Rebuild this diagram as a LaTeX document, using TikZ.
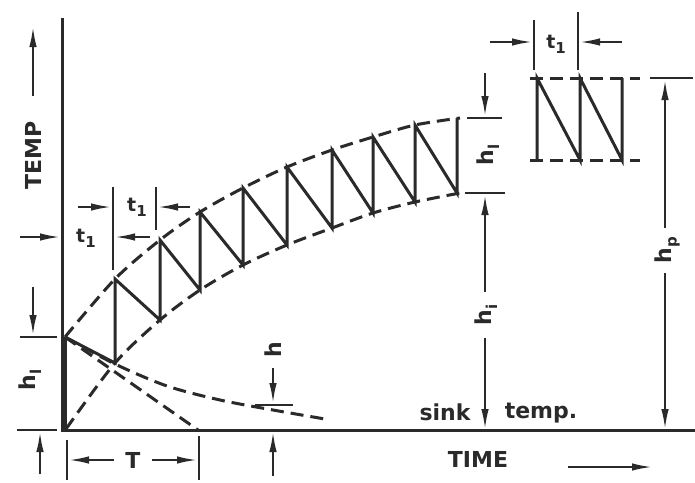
\documentclass[tikz,border=0pt]{standalone}
\usepackage{fontspec}
\setmainfont{DejaVu Sans}
\usetikzlibrary{arrows.meta}
\definecolor{ink}{HTML}{2A2A2A}
\newcommand{\mysub}[2]{#1\raisebox{-0.45ex}{\fontsize{15}{15}\selectfont #2}}
\begin{document}
\begin{tikzpicture}[x=1pt,y=-1pt,color=ink,
  axisline/.style={line width=3pt},
  saw/.style={line width=3pt,line join=miter},
  env/.style={line width=3pt,dash pattern=on 13pt off 7pt},
  tick/.style={line width=2pt},
  dimarrow/.style={line width=2pt,-{Latex[length=20pt,width=7.5pt]}},
  lbl/.style={inner sep=0pt,font=\bfseries\fontsize{22}{22}\selectfont},
  rlbl/.style={lbl,rotate=90},
  tlbl/.style={inner sep=0pt,font=\bfseries\fontsize{19}{19}\selectfont}]
\useasboundingbox (0,0) rectangle (695,482);
\fill[white] (0,0) rectangle (695,482);

% axes
\coordinate (ytop) at (62,18);
\coordinate (O) at (62,430);
\coordinate (xend) at (695,430);
\draw[axisline] (ytop) -- (O) -- (xend);
% initial heating step
\coordinate (s0) at (65,337);
\draw[line width=5.5pt] (64.5,337) -- (64.5,430);

% envelopes
\draw[env] plot[smooth] coordinates {(65,337) (115,279) (160,240) (200,212) (243,188) (287,167) (332,150) (373,137) (415,125) (460,118)};
\draw[env] plot[smooth] coordinates {(66,429) (115,363) (160,320) (200,290) (243,265) (287,245) (332,228) (373,213) (415,202) (460,193)};
% decay curve and tangent
\draw[env] plot[smooth] coordinates {(65,337) (115,364) (167,386) (220,400) (273,410) (325,419)};
\coordinate (Tend) at (198,430);
\draw[env] (s0) -- (Tend);

% sawtooth
\draw[saw] (s0) -- (115,363) -- (115,279) -- (160,320) -- (160,240) -- (200,290) -- (200,212)
  -- (243,265) -- (243,188) -- (287,245) -- (287,167) -- (332,228) -- (332,150)
  -- (373,213) -- (373,137) -- (415,202) -- (415,125) -- (457,193) -- (457,118);

% inset
\draw[env] (530,78) -- (640,78);
\draw[env] (530,160) -- (640,160);
\draw[saw] (537,160) -- (537,78) -- (580,160) -- (580,78) -- (622,160) -- (622,78);

% TEMP axis label
\node[rlbl] (temp) at (33,155) {TEMP};
\coordinate (tempA) at (33,96);
\coordinate (tempB) at (33,27);
\draw[dimarrow] (tempA) -- (tempB);

% TIME
\node[lbl] (time) at (478,459) {TIME};
\coordinate (timeA) at (568,467);
\coordinate (timeB) at (652,467);
\draw[dimarrow] (timeA) -- (timeB);

% sink temp
\node[lbl] (sink) at (445,412) {sink};
\node[lbl] (stemp) at (541,413) {temp.};

% h_l left
\draw[tick] (20,337) -- (57,337);
\draw[tick] (17,430) -- (57,430);
\coordinate (hlA) at (33,287); \coordinate (hlB) at (33,335);
\draw[dimarrow] (hlA) -- (hlB);
\coordinate (hlC) at (40,474); \coordinate (hlD) at (40,432);
\draw[dimarrow] (hlC) -- (hlD);
\node[rlbl] (hlleft) at (30,380) {\mysub{h}{l}};

% t1 lower (axis to first rise)
\draw[tick] (113,187) -- (113,270);
\coordinate (taA) at (20,237); \coordinate (taB) at (60,237);
\draw[dimarrow] (taA) -- (taB);
\coordinate (taC) at (150,237); \coordinate (taD) at (115,237);
\draw[dimarrow] (taC) -- (taD);
\node[tlbl] (t1a) at (86,238) {\mysub{t}{1}};

% t1 upper (period)
\draw[tick] (156,187) -- (156,230);
\coordinate (tbA) at (78,207); \coordinate (tbB) at (111,207);
\draw[dimarrow] (tbA) -- (tbB);
\coordinate (tbC) at (190,207); \coordinate (tbD) at (158,207);
\draw[dimarrow] (tbC) -- (tbD);
\node[tlbl] (t1b) at (137,207) {\mysub{t}{1}};

% T
\draw[tick] (67,440) -- (67,480);
\draw[tick] (199,436) -- (199,480);
\node[lbl] (Tl) at (133,460) {T};
\coordinate (TA) at (114,460); \coordinate (TB) at (69,460);
\draw[dimarrow] (TA) -- (TB);
\coordinate (TC) at (152,460); \coordinate (TD) at (197,460);
\draw[dimarrow] (TC) -- (TD);

% h small
\node[rlbl] (hs) at (273,350) {h};
\coordinate (hsA) at (273,368); \coordinate (hsB) at (273,403);
\draw[dimarrow] (hsA) -- (hsB);
\draw[tick] (255,405) -- (293,405);
\coordinate (hsC) at (273,476); \coordinate (hsD) at (273,432);
\draw[dimarrow] (hsC) -- (hsD);

% h_l right
\draw[tick] (467,118) -- (502,118);
\draw[tick] (465,193) -- (505,193);
\coordinate (hrA) at (485,73); \coordinate (hrB) at (485,116);
\draw[dimarrow] (hrA) -- (hrB);
\node[rlbl] (hlright) at (488,155) {\mysub{h}{l}};

% h_i
\node[rlbl] (hi) at (486,315) {\mysub{h}{i}};
\coordinate (hiA) at (485,292); \coordinate (hiB) at (485,195);
\draw[dimarrow] (hiA) -- (hiB);
\coordinate (hiC) at (485,338); \coordinate (hiD) at (485,429);
\draw[dimarrow] (hiC) -- (hiD);

% t1 inset
\draw[tick] (534,20) -- (534,70);
\draw[tick] (578,12) -- (578,70);
\coordinate (tcA) at (490,42); \coordinate (tcB) at (532,42);
\draw[dimarrow] (tcA) -- (tcB);
\coordinate (tcC) at (622,42); \coordinate (tcD) at (580,42);
\draw[dimarrow] (tcC) -- (tcD);
\node[tlbl] (t1c) at (556,44) {\mysub{t}{1}};

% h_p
\draw[tick] (650,78) -- (693,78);
\node[rlbl] (hp) at (667,250) {\mysub{h}{p}};
\coordinate (hpA) at (665,228); \coordinate (hpB) at (665,80);
\draw[dimarrow] (hpA) -- (hpB);
\coordinate (hpC) at (665,273); \coordinate (hpD) at (665,429);
\draw[dimarrow] (hpC) -- (hpD);
\end{tikzpicture}
\end{document}
